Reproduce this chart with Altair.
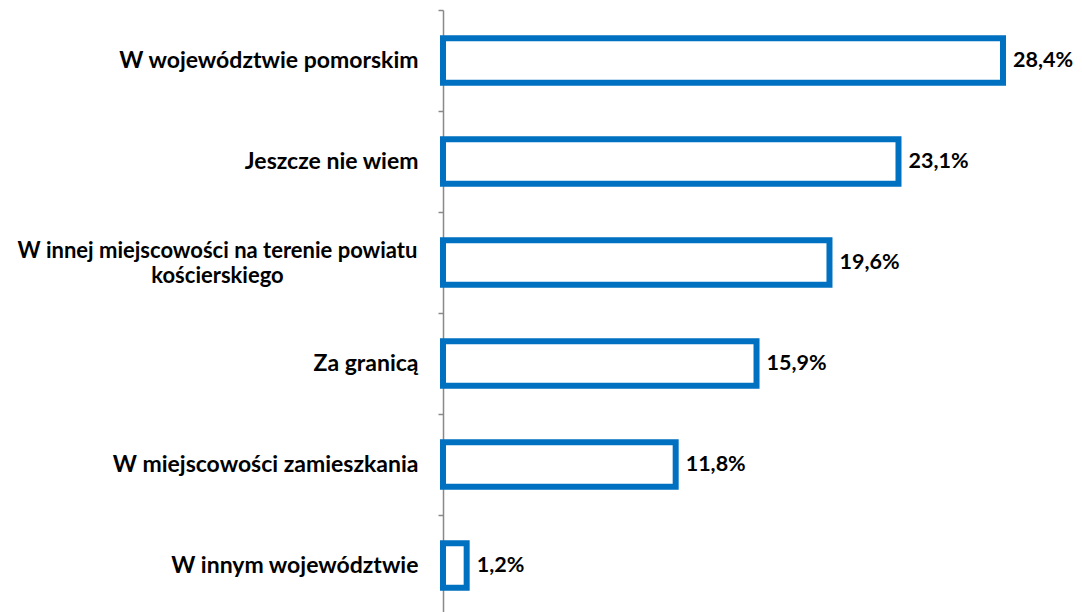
import altair as alt
import pandas as pd

categories = [
    "W województwie pomorskim",
    "Jeszcze nie wiem",
    "W innej miejscowości na terenie powiatu kościerskiego",
    "Za granicą",
    "W miejscowości zamieszkania",
    "W innym województwie",
]
values = [28.4, 23.1, 19.6, 15.9, 11.8, 1.2]

df = pd.DataFrame({"cat": categories, "val": values})

FONT = "Lato"
BLUE = "#0070C0"
GRAY = "#898989"
LONG = "W innej miejscowości na terenie powiatu kościerskiego"
TEST = "datum.value == '" + LONG + "'"
HALF_STEP = 50.5

label_expr = (
    TEST + " ? ['W innej miejscowości na terenie powiatu', 'kościerskiego'] : datum.value"
)

y_enc = alt.Y(
    "cat:N",
    sort=categories,
    title=None,
    scale=alt.Scale(paddingInner=0.56, paddingOuter=0.28),
    axis=alt.Axis(
        labelExpr=label_expr,
        labelFont=FONT,
        labelFontSize={"condition": {"test": TEST, "value": 22}, "value": 23},
        labelFontWeight="bold",
        labelColor="#000000",
        labelPadding={"condition": {"test": TEST, "value": 221}, "value": 20},
        labelAlign={"condition": {"test": TEST, "value": "center"}, "value": "right"},
        labelOffset={"condition": {"test": TEST, "value": HALF_STEP - 12}, "value": HALF_STEP},
        labelLineHeight=25,
        labelLimit=700,
        ticks=True,
        tickOffset=-HALF_STEP,
        tickSize=5,
        tickColor=GRAY,
        tickWidth=1.5,
        domainColor=GRAY,
        domainWidth=1.5,
        grid=False,
    ),
)

x_enc = alt.X("val:Q", scale=alt.Scale(domain=[0, 28.4], nice=False, zero=True), axis=None)

bars = alt.Chart(df).mark_bar(
    fill="white", stroke=BLUE, strokeWidth=6, strokeJoin="miter"
).encode(x=x_enc, y=y_enc)

text = alt.Chart(df).transform_calculate(
    lab="replace(format(datum.val, '.1f'), '.', ',') + '%'"
).mark_text(
    align="left", baseline="middle", dx=10, font=FONT, fontSize=21.5, fontWeight="bold", color="#000000"
).encode(x=x_enc, y=y_enc, text="lab:N")

chart = (
    alt.layer(bars, text)
    .properties(
        width=560,
        height=606,
        autosize=alt.AutoSizeParams(type="none"),
        padding={"left": 435, "top": 2, "right": 71, "bottom": 0},
    )
    .configure_view(stroke=None)
)

chart.save("out.html", embed_options={"renderer": "svg", "actions": False})
